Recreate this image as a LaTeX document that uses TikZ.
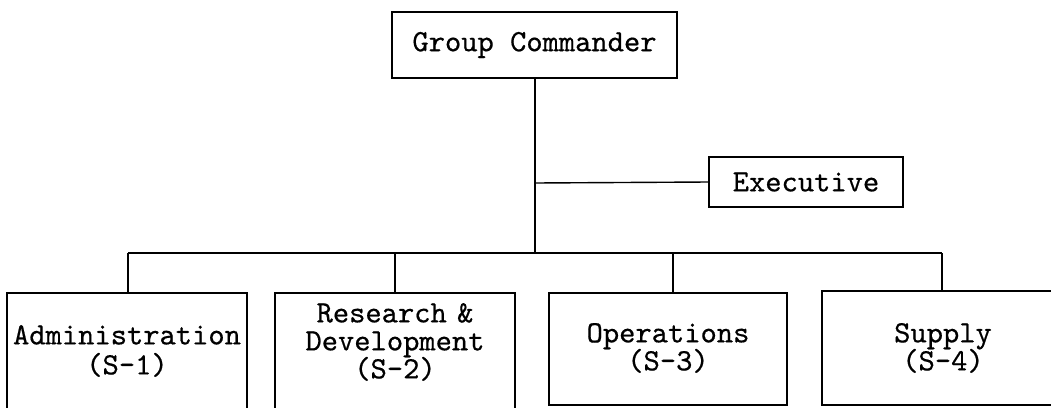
\documentclass[tikz,border=0pt]{standalone}
\usepackage{fontspec}
\newfontfamily\twfont{lmmono10-regular}[Extension=.otf,FakeBold=0.5]
\newcommand\twsize[1]{\twfont\fontsize{31}{#1}\selectfont\lineskiplimit=-100pt\relax}
\begin{document}
\begin{tikzpicture}[x=1pt,y=-1pt,
  box/.style={draw,line width=1.5pt,inner sep=0pt,align=center,font=\twsize{26}},
  frame/.style={draw,line width=1.5pt,inner sep=0pt},
  label text/.style={inner sep=0pt,align=center,text width=228pt,font=\twsize{28}},
  conn/.style={line width=1.4pt}]
\useasboundingbox (0,0) rectangle (1051,407);
\begin{scope}
\clip (0,0) rectangle (1051,407);
\node[box,minimum width=285pt,minimum height=66pt] (gc) at (534.5,45) {Group Commander};
\node[box,minimum width=194pt,minimum height=50pt] (ex) at (806,182) {Executive};
\node[frame,minimum width=240pt,minimum height=118pt] (s1) at (127,352) {};
\node[frame,minimum width=240pt,minimum height=116pt] (s2) at (395,351) {};
\node[frame,minimum width=238pt,minimum height=112pt] (s3) at (668,349) {};
\node[frame,minimum width=242pt,minimum height=114pt] (s4) at (943,348) {};
\node[label text,font=\twsize{30}] (t1) at (127,351) {Administration\\(S-1)};
\node[label text] (t2) at (395,342) {Research \&\\Development\\(S-2)};
\node[label text] (t3) at (668,348) {Operations\\(S-3)};
\node[label text] (t4) at (943,348) {Supply\\(S-4)};
\coordinate (ej) at (535,183);
\coordinate (bar) at (535,253);
\coordinate (b1) at (128,253);
\coordinate (b2) at (395,253);
\coordinate (b3) at (673,253);
\coordinate (b4) at (942,253);
\draw[conn] (gc.south -| bar) -- (bar);
\draw[conn] (ej) -- (ex.west);
\draw[conn] (b1) -- (b4);
\draw[conn] (b1) -- (b1 |- s1.north);
\draw[conn] (b2) -- (b2 |- s2.north);
\draw[conn] (b3) -- (b3 |- s3.north);
\draw[conn] (b4) -- (b4 |- s4.north);
\end{scope}
\end{tikzpicture}
\end{document}
